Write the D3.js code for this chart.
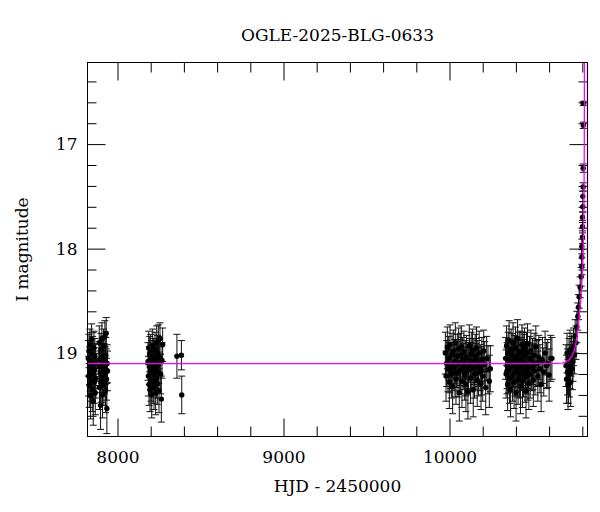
<!DOCTYPE html>
<html>
<head>
<meta charset="utf-8">
<script src="https://cdn.jsdelivr.net/npm/d3@7/dist/d3.min.js"></script>
<style>
  body { margin: 0; background: #fff; }
  svg { display: block; }
  .axis text { font-family: "DejaVu Serif", serif; font-size: 17px; fill: #000; }
  .axis line { stroke: #000; }
  .label { font-family: "DejaVu Serif", serif; font-size: 17px; fill: #000; }
</style>
</head>
<body>
<div id="chart"></div>
<script>
// photometry, one table per observing season: [HJD - 2450000, I mag, error]
const season1 = [
  [7824, 19.05, 0.17], [7826, 19.22, 0.19], [7828, 18.98, 0.16], [7830, 19.31, 0.21],
  [7832, 19.12, 0.18], [7834, 18.92, 0.15], [7836, 19.18, 0.19], [7838, 19.41, 0.22],
  [7840, 19.07, 0.17], [7842, 19.26, 0.20], [7844, 18.87, 0.15], [7846, 19.14, 0.18],
  [7848, 19.35, 0.21], [7850, 19.01, 0.17], [7852, 19.20, 0.19], [7854, 19.46, 0.23],
  [7856, 19.10, 0.18], [7858, 18.95, 0.16], [7860, 19.28, 0.20], [7862, 19.16, 0.18],
  [7864, 19.03, 0.17], [7866, 19.38, 0.21], [7868, 19.09, 0.18], [7870, 19.24, 0.19],
  [7888, 19.13, 0.18], [7890, 18.90, 0.16], [7892, 19.33, 0.21], [7894, 19.06, 0.17],
  [7896, 19.19, 0.19], [7898, 19.50, 0.23], [7900, 18.97, 0.16], [7902, 19.27, 0.20],
  [7904, 19.11, 0.18], [7906, 18.86, 0.15], [7908, 19.22, 0.19], [7910, 19.40, 0.22],
  [7912, 19.04, 0.17], [7914, 19.15, 0.18], [7916, 18.93, 0.16], [7918, 19.30, 0.20],
  [7920, 19.08, 0.17], [7922, 19.20, 0.19], [7924, 18.84, 0.15], [7926, 19.12, 0.18],
  [7928, 19.36, 0.21], [7930, 19.02, 0.17], [7932, 18.81, 0.15], [7934, 19.25, 0.20],
  [7936, 19.53, 0.24], [7938, 19.10, 0.18], [7940, 19.17, 0.19]
];

const season2 = [
  [8184, 19.08, 0.18], [8186, 19.22, 0.19], [8188, 18.95, 0.16], [8190, 19.30, 0.20],
  [8192, 19.12, 0.18], [8194, 19.01, 0.17], [8196, 19.35, 0.21], [8198, 19.17, 0.18],
  [8200, 18.98, 0.16], [8202, 19.26, 0.20], [8204, 19.10, 0.18], [8206, 19.40, 0.22],
  [8208, 19.05, 0.17], [8210, 19.19, 0.19], [8212, 18.93, 0.16], [8214, 19.28, 0.20],
  [8216, 19.14, 0.18], [8218, 19.03, 0.17], [8220, 19.33, 0.21], [8222, 19.09, 0.18],
  [8224, 19.21, 0.19], [8226, 18.96, 0.16], [8228, 19.15, 0.18], [8230, 19.38, 0.21],
  [8232, 19.06, 0.17], [8234, 19.24, 0.19], [8236, 18.90, 0.16], [8238, 19.13, 0.18],
  [8240, 19.29, 0.20], [8242, 19.00, 0.17], [8244, 19.18, 0.19], [8246, 18.88, 0.15],
  [8248, 19.11, 0.18], [8250, 19.36, 0.21], [8252, 19.04, 0.17], [8256, 18.86, 0.15],
  [8260, 19.20, 0.19], [8264, 19.44, 0.22], [8268, 19.07, 0.17], [8272, 18.92, 0.16],
  [8358, 19.03, 0.21], [8385, 19.02, 0.14], [8387, 19.40, 0.18]
];

const season3 = [
  [9975, 19.00, 0.20], [9979, 19.22, 0.24], [9983, 19.10, 0.22], [9987, 18.95, 0.20],
  [9991, 19.15, 0.22], [9995, 19.05, 0.21], [9999, 19.28, 0.25], [10003, 18.92, 0.19],
  [10007, 19.12, 0.22], [10011, 19.20, 0.23], [10015, 19.02, 0.21], [10019, 19.32, 0.26],
  [10023, 18.98, 0.20], [10027, 19.14, 0.22], [10031, 19.08, 0.21], [10035, 18.90, 0.19],
  [10039, 19.25, 0.24], [10043, 19.11, 0.22], [10047, 19.03, 0.21], [10051, 19.19, 0.23],
  [10055, 18.96, 0.20], [10059, 19.38, 0.27], [10063, 19.09, 0.22], [10067, 19.16, 0.23],
  [10071, 18.94, 0.20], [10075, 19.27, 0.25], [10079, 19.06, 0.21], [10083, 19.13, 0.22],
  [10087, 18.99, 0.20], [10091, 19.21, 0.24], [10095, 19.10, 0.22], [10099, 19.30, 0.26],
  [10103, 19.04, 0.21], [10107, 19.17, 0.23], [10111, 19.37, 0.26], [10115, 19.12, 0.22],
  [10119, 18.93, 0.20], [10123, 19.07, 0.21], [10127, 19.24, 0.24], [10131, 19.01, 0.21],
  [10135, 19.15, 0.22], [10139, 18.97, 0.20], [10143, 19.35, 0.26], [10147, 19.08, 0.22],
  [10151, 19.20, 0.23], [10155, 19.03, 0.21], [10159, 19.13, 0.22], [10163, 18.95, 0.20],
  [10167, 19.26, 0.25], [10171, 19.10, 0.22], [10175, 19.18, 0.23], [10179, 19.00, 0.21],
  [10185, 19.14, 0.22], [10190, 19.29, 0.25], [10195, 19.06, 0.21], [10200, 19.22, 0.24],
  [10206, 18.98, 0.20], [10212, 19.11, 0.22], [10218, 19.33, 0.26], [10224, 19.05, 0.21],
  [10232, 19.16, 0.23], [10240, 19.27, 0.25], [10246, 19.15, 0.22],
  [10001, 19.16, 0.22], [10033, 19.19, 0.23], [10065, 19.02, 0.21], [10097, 19.18, 0.23],
  [10129, 19.12, 0.22], [10161, 19.07, 0.21], [10193, 19.17, 0.23]
];

const season4 = [
  [10338, 19.05, 0.20], [10341, 19.20, 0.23], [10344, 18.93, 0.19], [10347, 19.12, 0.22],
  [10350, 19.30, 0.25], [10353, 19.00, 0.20], [10356, 19.16, 0.22], [10359, 18.88, 0.19],
  [10362, 19.24, 0.24], [10365, 19.08, 0.21], [10368, 19.35, 0.26], [10371, 18.97, 0.20],
  [10374, 19.13, 0.22], [10377, 19.02, 0.21], [10380, 19.22, 0.24], [10383, 18.90, 0.19],
  [10386, 19.10, 0.22], [10389, 19.28, 0.25], [10392, 19.04, 0.21], [10395, 19.18, 0.23],
  [10398, 18.95, 0.20], [10401, 19.38, 0.27], [10404, 19.07, 0.21], [10407, 19.15, 0.22],
  [10410, 18.86, 0.18], [10413, 19.25, 0.24], [10416, 19.10, 0.22], [10419, 19.01, 0.21],
  [10422, 19.20, 0.23], [10425, 18.99, 0.20], [10428, 19.32, 0.26], [10431, 19.06, 0.21],
  [10434, 19.14, 0.22], [10437, 18.92, 0.19], [10440, 19.27, 0.25], [10443, 19.09, 0.22],
  [10446, 19.19, 0.23], [10449, 19.03, 0.21], [10452, 18.96, 0.20], [10455, 19.23, 0.24],
  [10458, 19.11, 0.22], [10461, 19.36, 0.26], [10464, 19.00, 0.20], [10467, 19.16, 0.23],
  [10470, 18.91, 0.19], [10474, 19.12, 0.22], [10478, 19.29, 0.25], [10482, 19.05, 0.21],
  [10486, 19.20, 0.23], [10490, 18.98, 0.20], [10495, 19.14, 0.22], [10500, 19.08, 0.22],
  [10505, 19.26, 0.25], [10510, 19.02, 0.21], [10515, 19.17, 0.23], [10520, 18.94, 0.20],
  [10526, 19.10, 0.22], [10532, 19.22, 0.24], [10538, 19.04, 0.21], [10545, 19.15, 0.23],
  [10552, 19.30, 0.26], [10560, 19.07, 0.22], [10568, 19.18, 0.23], [10576, 19.00, 0.21],
  [10584, 19.12, 0.22], [10592, 19.10, 0.23], [10600, 19.21, 0.25], [10610, 19.05, 0.22],
  [10617, 19.05, 0.20],
  [10346, 19.17, 0.22], [10379, 19.11, 0.22], [10411, 19.19, 0.23], [10442, 19.01, 0.21],
  [10472, 19.21, 0.24], [10503, 19.13, 0.22], [10535, 19.09, 0.22]
];

const season5 = [
  [10702, 19.12, 0.20], [10705, 19.25, 0.23], [10708, 19.00, 0.19], [10711, 19.18, 0.22],
  [10714, 19.30, 0.24], [10717, 19.26, 0.22], [10720, 19.06, 0.20], [10723, 19.20, 0.22],
  [10726, 18.97, 0.19], [10727, 19.13, 0.21], [10730, 19.28, 0.23], [10733, 19.03, 0.19],
  [10737, 19.00, 0.19], [10740, 19.15, 0.20], [10744, 19.08, 0.19], [10747, 18.94, 0.18],
  [10752, 19.02, 0.18], [10757, 18.84, 0.16], [10762, 18.90, 0.16], [10767, 18.75, 0.15],
  [10773, 18.65, 0.13], [10777, 18.56, 0.12], [10781, 18.46, 0.11], [10787, 18.37, 0.10],
  [10793, 18.27, 0.09], [10797, 18.17, 0.08], [10797, 18.08, 0.07], [10797, 17.98, 0.07],
  [10801, 17.89, 0.06], [10801, 17.79, 0.06], [10801, 17.70, 0.05], [10803, 17.60, 0.05],
  [10803, 17.50, 0.05], [10805, 17.41, 0.04], [10805, 17.23, 0.04], [10806, 16.82, 0.03],
  [10806, 16.61, 0.02]
];

// best-fit model: [HJD - 2450000, I mag]
const modelCurve = [
  [7819, 19.10], [10600, 19.10], [10680, 19.095], [10700, 19.085], [10720, 19.065],
  [10737, 19.03], [10750, 18.98], [10757, 18.94], [10765, 18.87], [10771, 18.81],
  [10778, 18.71], [10783, 18.61], [10788, 18.53], [10791, 18.49], [10800, 18.25],
  [10806, 18.00], [10810, 17.60], [10812, 17.00], [10813, 16.00],
  [10831.2, 16.00], [10831.3, 18.08]
];

const xMajor = [8000, 9000, 10000];
const xMinor = [8200, 8400, 8600, 8800, 9200, 9400, 9600, 9800, 10200, 10400, 10600, 10800];
const yMajor = [17, 18, 19];
const yMinor = [16.4, 16.6, 16.8, 17.2, 17.4, 17.6, 17.8, 18.2, 18.4, 18.6, 18.8, 19.2, 19.4, 19.6];

const title = `OGLE-2025-BLG-0633`;
const xTitle = `HJD - 2450000`;
const yTitle = `I magnitude`;

const width = 600;
const height = 512;
const plot = { left: 87.5, right: 587.5, top: 62.5, bottom: 436.5 };

const x = d3.scaleLinear().domain([7819.3, 10831.3]).range([plot.left, plot.right]);
const y = d3.scaleLinear().domain([16.219, 19.798]).range([plot.top, plot.bottom]);

const svg = d3.select(`#chart`).append(`svg`)
    .attr(`width`, width)
    .attr(`height`, height);

svg.append(`defs`).append(`clipPath`)
    .attr(`id`, `plot-clip`)
  .append(`rect`)
    .attr(`x`, plot.left)
    .attr(`y`, plot.top)
    .attr(`width`, plot.right - plot.left + 1)
    .attr(`height`, plot.bottom - plot.top);

// ticks on all four sides, pointing inwards
const drawTicks = (axis, values, size, transform, labels) => {
  const g = svg.append(`g`)
      .attr(`class`, `axis`)
      .attr(`transform`, transform)
      .call(axis.tickValues(values).tickSize(-size).tickFormat(labels ? d3.format(`d`) : ``));
  g.select(`.domain`).remove();
  return g;
};

const atBottom = `translate(0,${plot.bottom})`;
const atTop = `translate(0,${plot.top})`;
const atLeft = `translate(${plot.left},0)`;
const atRight = `translate(${plot.right},0)`;

drawTicks(d3.axisBottom(x).tickPadding(14), xMajor, 18, atBottom, true);
drawTicks(d3.axisBottom(x), xMinor, 10, atBottom, false);
drawTicks(d3.axisTop(x), xMajor, 18, atTop, false);
drawTicks(d3.axisTop(x), xMinor, 10, atTop, false);
drawTicks(d3.axisLeft(y).tickPadding(10), yMajor, 18, atLeft, true);
drawTicks(d3.axisLeft(y), yMinor, 9, atLeft, false);
drawTicks(d3.axisRight(y), yMajor, 18, atRight, false);
drawTicks(d3.axisRight(y), yMinor, 9, atRight, false);

const points = [].concat(season1, season2, season3, season4, season5);

const bars = svg.append(`g`).attr(`stroke`, `#111`).attr(`stroke-width`, 1);
points.forEach(([t, m, e]) => {
  const px = x(t);
  bars.append(`line`)
      .attr(`x1`, px).attr(`x2`, px)
      .attr(`y1`, y(m - e)).attr(`y2`, y(m + e));
  [m - e, m + e].forEach((v) => {
    bars.append(`line`)
        .attr(`x1`, px - 3.5).attr(`x2`, px + 3.5)
        .attr(`y1`, y(v)).attr(`y2`, y(v));
  });
});

svg.append(`g`).selectAll(`circle`)
    .data(points)
  .enter().append(`circle`)
    .attr(`cx`, (d) => x(d[0]))
    .attr(`cy`, (d) => y(d[1]))
    .attr(`r`, 2.7)
    .attr(`fill`, `#000`);

svg.append(`path`)
    .datum(modelCurve)
    .attr(`clip-path`, `url(#plot-clip)`)
    .attr(`fill`, `none`)
    .attr(`stroke`, `#ff00ff`)
    .attr(`stroke-width`, 1.3)
    .attr(`d`, d3.line().x((d) => x(d[0])).y((d) => y(d[1])));

svg.append(`rect`)
    .attr(`x`, plot.left)
    .attr(`y`, plot.top)
    .attr(`width`, plot.right - plot.left)
    .attr(`height`, plot.bottom - plot.top)
    .attr(`fill`, `none`)
    .attr(`stroke`, `#000`);

svg.append(`text`)
    .attr(`class`, `label`)
    .attr(`x`, (plot.left + plot.right) / 2)
    .attr(`y`, 41)
    .attr(`text-anchor`, `middle`)
    .text(title);

svg.append(`text`)
    .attr(`class`, `label`)
    .attr(`x`, (plot.left + plot.right) / 2)
    .attr(`y`, 492)
    .attr(`text-anchor`, `middle`)
    .text(xTitle);

svg.append(`text`)
    .attr(`class`, `label`)
    .attr(`transform`, `translate(28,${(plot.top + plot.bottom) / 2}) rotate(-90)`)
    .attr(`text-anchor`, `middle`)
    .text(yTitle);
</script>
</body>
</html>
